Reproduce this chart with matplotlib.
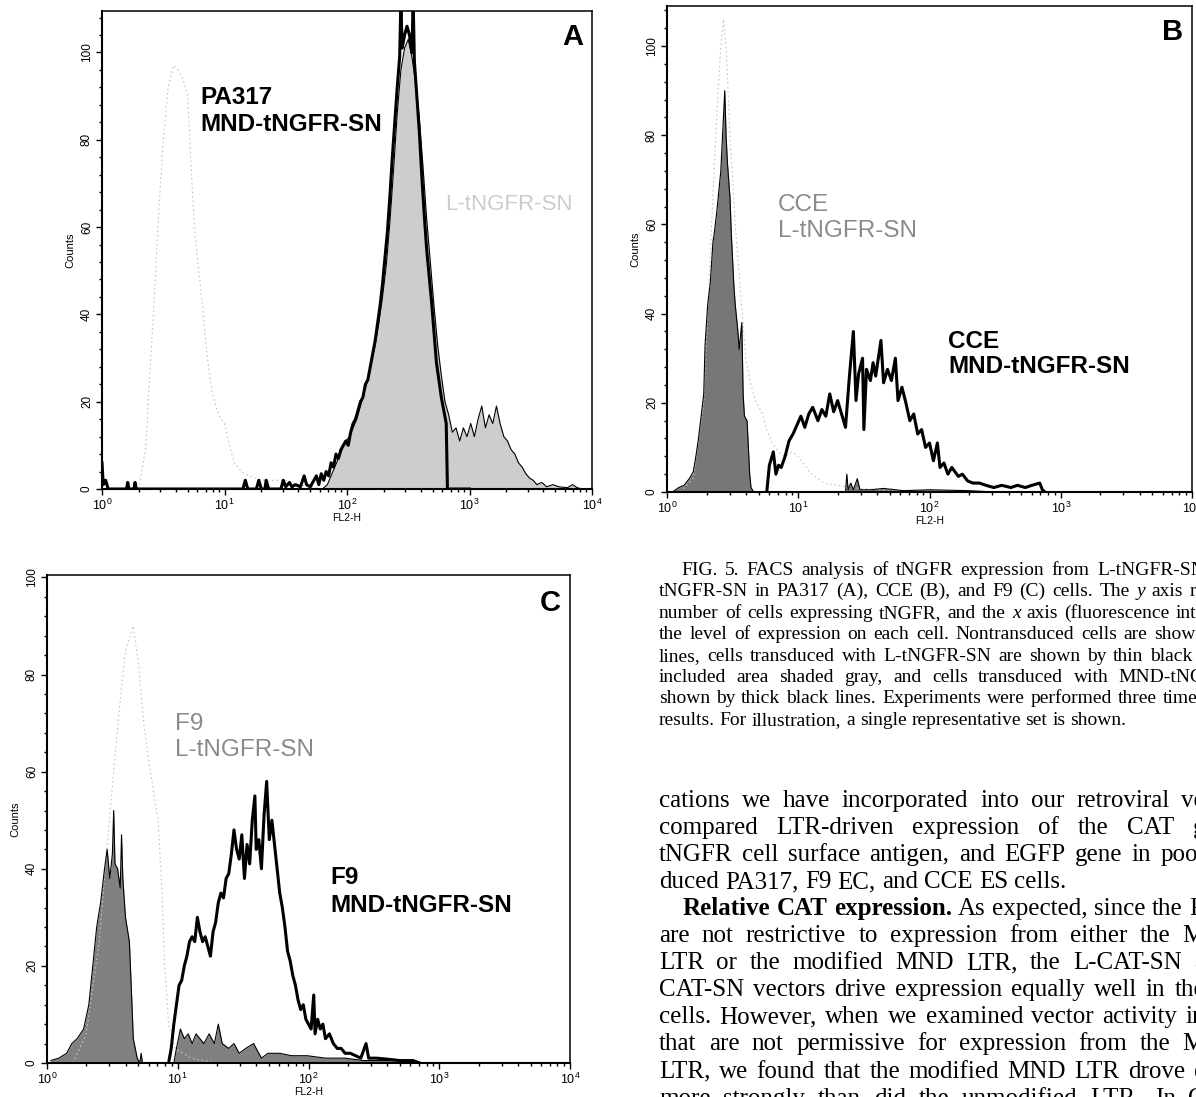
import numpy as np
import matplotlib
matplotlib.use('Agg')
import matplotlib.pyplot as plt
from matplotlib.ticker import MultipleLocator, LogLocator, NullFormatter

# ---- data: (log10 FL2-H, counts) ----
a_mnd = [(0.00, 6), (0.01, 1), (0.03, 2), (0.05, 0), (0.20, 0), (0.21, 1.5), (0.22, 0),
         (0.26, 0), (0.27, 1.5), (0.28, 0), (1.15, 0), (1.17, 2), (1.19, 0), (1.26, 0),
         (1.28, 2), (1.30, 0), (1.33, 0), (1.34, 2), (1.36, 0), (1.46, 0), (1.48, 2),
         (1.50, 0.5), (1.53, 1.5), (1.55, 0.5), (1.58, 1), (1.62, 0.5), (1.65, 3), (1.67, 1),
         (1.70, 0.5), (1.73, 2), (1.75, 3), (1.77, 1), (1.79, 3.5), (1.81, 2), (1.83, 4),
         (1.85, 3), (1.87, 6), (1.89, 5), (1.91, 8), (1.93, 7), (1.95, 9), (1.97, 10),
         (1.99, 11), (2.01, 10), (2.03, 13), (2.05, 15), (2.07, 16), (2.09, 18), (2.11, 20),
         (2.13, 21), (2.15, 24), (2.17, 25), (2.19, 28), (2.21, 31), (2.23, 34), (2.25, 38),
         (2.27, 42), (2.29, 47), (2.31, 53), (2.33, 59), (2.35, 67), (2.37, 76), (2.39, 84),
         (2.41, 92), (2.43, 99), (2.44, 112), (2.45, 101), (2.47, 104), (2.49, 106),
         (2.51, 104), (2.53, 100), (2.54, 112), (2.55, 98), (2.57, 90), (2.59, 82), (2.61, 72),
         (2.63, 63), (2.65, 55), (2.67, 49), (2.69, 43), (2.71, 36), (2.73, 29), (2.75, 25),
         (2.77, 21), (2.79, 18), (2.81, 15), (2.82, 0), (3.00, 0)]

a_ltr = [(1.80, 0), (1.84, 1), (1.87, 3), (1.90, 5), (1.93, 7), (1.96, 9), (1.99, 11),
         (2.02, 12), (2.05, 14), (2.08, 16), (2.11, 19), (2.14, 22), (2.17, 25), (2.20, 29),
         (2.23, 33), (2.26, 38), (2.29, 44), (2.32, 51), (2.35, 61), (2.38, 73), (2.41, 86),
         (2.44, 96), (2.47, 101), (2.50, 103), (2.53, 99), (2.56, 93), (2.59, 85), (2.62, 74),
         (2.65, 62), (2.68, 52), (2.71, 42), (2.74, 33), (2.77, 26), (2.80, 20), (2.83, 17),
         (2.86, 13), (2.89, 14), (2.92, 11), (2.95, 14), (2.98, 12), (3.01, 15), (3.04, 12),
         (3.07, 16), (3.10, 19), (3.13, 14), (3.16, 17), (3.19, 15), (3.22, 19), (3.25, 15),
         (3.28, 12), (3.31, 11), (3.34, 9), (3.37, 8), (3.40, 6), (3.43, 5), (3.46, 3.5),
         (3.49, 2.5), (3.52, 2), (3.55, 1), (3.59, 1.5), (3.63, 0.5), (3.68, 1), (3.73, 0.5),
         (3.80, 0.3), (3.84, 1), (3.88, 0.3), (3.92, 0)]

a_non = [(0.30, 0), (0.36, 10), (0.38, 22), (0.42, 40), (0.46, 62), (0.50, 80), (0.54, 92),
         (0.58, 97), (0.62, 96), (0.66, 94), (0.70, 90), (0.73, 72), (0.76, 58), (0.79, 50),
         (0.82, 42), (0.86, 30), (0.90, 22), (0.95, 17), (1.00, 15), (1.04, 10), (1.08, 6),
         (1.14, 4), (1.20, 3), (1.30, 2), (1.50, 2), (1.60, 1), (1.80, 0)]

b_mnd = [(0.76, 0), (0.78, 6), (0.81, 9), (0.83, 4), (0.85, 6), (0.87, 5.5), (0.90, 8),
         (0.93, 11.5), (0.96, 13), (0.99, 15), (1.02, 17), (1.05, 14.5), (1.08, 17.5),
         (1.11, 19), (1.15, 16), (1.18, 18.5), (1.21, 17), (1.24, 22), (1.27, 18), (1.30, 20.5),
         (1.33, 17.5), (1.36, 14.5), (1.39, 26), (1.42, 36), (1.44, 20.5), (1.46, 26.5),
         (1.49, 30), (1.50, 14), (1.52, 27.5), (1.55, 25), (1.57, 29), (1.59, 26), (1.63, 34),
         (1.65, 24.5), (1.68, 27.5), (1.71, 25), (1.74, 30), (1.76, 20.5), (1.79, 23.5),
         (1.82, 20), (1.85, 16), (1.88, 17.5), (1.91, 13), (1.94, 14), (1.97, 10), (2.00, 11),
         (2.03, 7), (2.06, 11), (2.08, 5.5), (2.11, 6.5), (2.14, 4), (2.17, 5.5), (2.22, 3.5),
         (2.25, 4), (2.29, 2.5), (2.33, 2), (2.38, 2), (2.43, 1.5), (2.49, 1), (2.55, 1.5),
         (2.62, 1), (2.67, 1.5), (2.73, 1), (2.78, 1.5), (2.84, 2), (2.86, 0.5), (2.88, 0)]

b_ltr = [(0.04, 0), (0.09, 1), (0.13, 1.5), (0.17, 3), (0.20, 4.5), (0.22, 8), (0.24, 12),
         (0.26, 17), (0.28, 22), (0.29, 33), (0.31, 42), (0.33, 47), (0.35, 56), (0.36, 58),
         (0.38, 63), (0.39, 66), (0.41, 72), (0.42, 78), (0.43, 84), (0.44, 90), (0.45, 80),
         (0.46, 74), (0.48, 66), (0.49, 58), (0.50, 52), (0.51, 46), (0.52, 42), (0.54, 36),
         (0.55, 32), (0.57, 38), (0.58, 22), (0.59, 17), (0.61, 16), (0.62, 10), (0.63, 4),
         (0.64, 1), (0.66, 0), (1.36, 0), (1.37, 4), (1.38, 0.5), (1.40, 2), (1.42, 0.5),
         (1.45, 3), (1.47, 0.5), (1.55, 0.5), (1.65, 0.8), (1.80, 0.3), (2.00, 0.5),
         (2.30, 0.3), (2.50, 0)]

b_non = [(0.10, 0), (0.20, 3), (0.28, 20), (0.34, 60), (0.38, 85), (0.41, 100), (0.43, 106),
         (0.45, 100), (0.48, 80), (0.52, 60), (0.56, 45), (0.60, 30), (0.64, 24), (0.68, 20),
         (0.72, 18), (0.76, 14), (0.80, 11), (0.85, 9), (0.90, 8), (0.95, 9), (1.00, 8),
         (1.05, 6), (1.10, 4), (1.20, 2), (1.40, 1), (1.60, 0.5), (2.00, 0)]

c_mnd = [(0.93, 0), (0.95, 3), (0.97, 8), (0.99, 12), (1.01, 16), (1.03, 17), (1.05, 20),
         (1.07, 22), (1.09, 25), (1.11, 26), (1.13, 25), (1.15, 30), (1.17, 27), (1.19, 25),
         (1.21, 26), (1.23, 24), (1.25, 22), (1.27, 27), (1.29, 29), (1.31, 33), (1.33, 35),
         (1.35, 34), (1.37, 38), (1.39, 39), (1.41, 43), (1.43, 48), (1.45, 44), (1.47, 42),
         (1.49, 47), (1.51, 38), (1.53, 45), (1.55, 41), (1.57, 50), (1.59, 55), (1.60, 44),
         (1.62, 46), (1.64, 40), (1.66, 51), (1.68, 58), (1.70, 46), (1.72, 50), (1.74, 45),
         (1.76, 40), (1.78, 35), (1.80, 32), (1.82, 28), (1.84, 23), (1.86, 21), (1.88, 18),
         (1.90, 16), (1.92, 13), (1.94, 11), (1.96, 12), (1.98, 9), (2.00, 8), (2.02, 7),
         (2.04, 14), (2.05, 6), (2.07, 9), (2.09, 7), (2.11, 8), (2.13, 5), (2.16, 6),
         (2.19, 4), (2.22, 3), (2.25, 3), (2.28, 2), (2.32, 2), (2.36, 1.5), (2.40, 1),
         (2.44, 4), (2.46, 1), (2.52, 1), (2.60, 0.8), (2.70, 0.5), (2.80, 0.5), (2.85, 0)]

c_ltr = [(0.03, 0.5), (0.09, 1), (0.15, 2), (0.19, 4), (0.23, 5), (0.28, 7), (0.32, 12),
         (0.35, 20), (0.38, 28), (0.41, 33), (0.44, 40), (0.46, 44), (0.48, 38), (0.50, 43),
         (0.51, 52), (0.52, 41), (0.54, 40), (0.56, 36), (0.57, 47), (0.58, 38), (0.60, 30),
         (0.63, 25), (0.65, 12), (0.66, 5), (0.69, 1), (0.71, 0), (0.72, 2), (0.73, 0),
         (0.97, 0), (0.99, 3), (1.02, 7), (1.05, 5), (1.08, 6), (1.11, 4), (1.14, 6),
         (1.17, 5), (1.20, 4), (1.24, 6), (1.28, 4), (1.31, 8), (1.34, 4), (1.39, 3),
         (1.43, 4), (1.47, 2), (1.52, 3), (1.58, 4), (1.64, 1), (1.69, 2), (1.78, 2),
         (1.87, 1.5), (1.99, 1.5), (2.13, 1), (2.28, 1), (2.42, 0.5), (2.57, 0.5),
         (2.72, 0.5), (2.83, 0)]

c_non = [(0.20, 0), (0.30, 6), (0.40, 25), (0.46, 45), (0.51, 60), (0.55, 72), (0.60, 85),
         (0.66, 90), (0.70, 82), (0.74, 70), (0.78, 62), (0.82, 55), (0.85, 50), (0.88, 35),
         (0.90, 20), (0.93, 8), (0.98, 3), (1.10, 1), (1.30, 0)]

# ---- caption and body text lines (cut at the page edge as in the scan) ----
caption_lines = [
    "FIG. 5. FACS analysis of tNGFR expression from L-tNGFR-SN",
    "tNGFR-SN in PA317 (A), CCE (B), and F9 (C) cells. The *y axis re",
    "number of cells expressing tNGFR, and the *x axis (fluorescence inte",
    "the level of expression on each cell. Nontransduced cells are shown",
    "lines, cells transduced with L-tNGFR-SN are shown by thin black l",
    "included area shaded gray, and cells transduced with MND-tNG",
    "shown by thick black lines. Experiments were performed three times",
    "results. For illustration, a single representative set is shown.",
]
caption_just = [True, True, True, True, True, True, True, False]

body_lines = [
    "cations we have incorporated into our retroviral ve",
    "compared LTR-driven expression of the CAT g",
    "tNGFR cell surface antigen, and EGFP gene in pool",
    "duced PA317, F9 EC, and CCE ES cells.",
    "#Relative #CAT #expression. As expected, since the PA",
    "are not restrictive to expression from either the M",
    "LTR or the modified MND LTR, the L-CAT-SN a",
    "CAT-SN vectors drive expression equally well in the",
    "cells. However, when we examined vector activity in",
    "that are not permissive for expression from the M",
    "LTR, we found that the modified MND LTR drove e",
    "more strongly than did the unmodified LTR. In C",
]
body_just = [True, True, True, False, True, True, True, True, True, True, True, True]

W, H = 1196, 1097
fig = plt.figure(figsize=(W / 100, H / 100), dpi=100)
plt.rcParams['font.family'] = ['Liberation Sans', 'DejaVu Sans']


def box(l, t, r, b):
    return [l / W, 1 - b / H, (r - l) / W, (b - t) / H]


def setup(ax, ymax):
    ax.set_xscale('log')
    ax.set_xlim(1, 1e4)
    ax.set_ylim(0, ymax)
    ax.yaxis.set_major_locator(MultipleLocator(20))
    ax.yaxis.set_minor_locator(MultipleLocator(4))
    ax.xaxis.set_major_locator(LogLocator(base=10, numticks=10))
    ax.xaxis.set_minor_locator(LogLocator(base=10, subs=np.arange(2, 10), numticks=10))
    ax.xaxis.set_minor_formatter(NullFormatter())
    ax.tick_params(which='both', direction='out', width=1.0, pad=2)
    ax.tick_params(axis='x', labelsize=9)
    ax.tick_params(axis='y', labelsize=8.5)
    ax.tick_params(which='major', length=4.5)
    ax.tick_params(which='minor', length=2.5)
    for lab in ax.get_yticklabels():
        lab.set_rotation(90)
        lab.set_va('center')
    ax.set_ylabel('Counts', fontsize=8, labelpad=4)
    ax.set_xlabel('FL2-H', fontsize=7.5, labelpad=0)
    for side in ('left', 'bottom'):
        ax.spines[side].set_linewidth(1.5)
    for side in ('top', 'right'):
        ax.spines[side].set_linewidth(1.1)


def draw(ax, data, **kw):
    d = np.array(data, dtype=float)
    ax.plot(10 ** d[:, 0], d[:, 1], **kw)


def shade(ax, data, color):
    d = np.array(data, dtype=float)
    ax.fill_between(10 ** d[:, 0], d[:, 1], 0, color=color, lw=0)


gray_kw = dict(color='#c4c4c4', lw=0.8, ls=(0, (1.5, 2.5)))
thin_kw = dict(color='black', lw=0.8)
thick_kw = dict(color='black', lw=2.2)
lab_kw = dict(fontsize=17.5, fontweight='bold', va='baseline', ha='left')
glab_kw = dict(fontsize=17.5, color='#8a8a8a', va='baseline', ha='left')
letter_kw = dict(fontsize=21, fontweight='bold', ha='right', va='top')

# panel A
axA = fig.add_axes(box(102, 11, 592, 489))
setup(axA, 109.5)
shade(axA, a_ltr, '#cdcdcd')
draw(axA, a_non, **gray_kw)
draw(axA, a_ltr, **thin_kw)
draw(axA, a_mnd, **thick_kw)
axA.text(10 ** 0.80, 88.2, 'PA317', **lab_kw)
axA.text(10 ** 0.80, 82.0, 'MND-tNGFR-SN', **lab_kw)
axA.text(10 ** 2.80, 64, 'L-tNGFR-SN', fontsize=16, color='#cccccc', va='baseline', ha='left')
axA.text(0.983, 0.975, 'A', transform=axA.transAxes, **letter_kw)

# panel B
axB = fig.add_axes(box(667, 6, 1192, 492))
setup(axB, 109)
shade(axB, b_ltr, '#777777')
draw(axB, b_non, **gray_kw)
draw(axB, b_ltr, **thin_kw)
draw(axB, b_mnd, **thick_kw)
axB.text(10 ** 0.845, 63.0, 'CCE', **glab_kw)
axB.text(10 ** 0.845, 57.3, 'L-tNGFR-SN', **glab_kw)
axB.text(10 ** 2.14, 32.2, 'CCE', **lab_kw)
axB.text(10 ** 2.14, 26.8, 'MND-tNGFR-SN', **lab_kw)
axB.text(0.983, 0.975, 'B', transform=axB.transAxes, **letter_kw)

# panel C
axC = fig.add_axes(box(47, 575, 570, 1063))
setup(axC, 100.5)
shade(axC, c_ltr, '#808080')
draw(axC, c_non, **gray_kw)
draw(axC, c_ltr, **thin_kw)
draw(axC, c_mnd, **thick_kw)
axC.text(10 ** 0.98, 68.6, 'F9', **glab_kw)
axC.text(10 ** 0.98, 63.2, 'L-tNGFR-SN', **glab_kw)
axC.text(10 ** 2.17, 36.8, 'F9', **lab_kw)
axC.text(10 ** 2.17, 31.0, 'MND-tNGFR-SN', **lab_kw)
axC.text(0.983, 0.972, 'C', transform=axC.transAxes, **letter_kw)

# ---- justified text column on the right, running off the page edge ----
renderer = fig.canvas.get_renderer()


def put_line(line, x0, x1, y, size, justify):
    texts = []
    for w in line.split(' '):
        weight, style = 'normal', 'normal'
        if w.startswith('#'):
            weight, w = 'bold', w[1:]
        if w.startswith('*'):
            style, w = 'italic', w[1:]
        t = fig.text(0, 0, w, fontsize=size, family='Liberation Serif',
                     fontweight=weight, fontstyle=style, va='baseline', ha='left')
        texts.append(t)
    widths = [t.get_window_extent(renderer).width for t in texts]
    gap = 0.25 * size * 100 / 72
    if justify and len(texts) > 1:
        gap = max((x1 - x0 - sum(widths)) / (len(texts) - 1), gap)
    x = x0
    for t, wd in zip(texts, widths):
        t.set_position((x / W, 1 - y / H))
        x += wd + gap


for i, (line, j) in enumerate(zip(caption_lines, caption_just)):
    x0 = 681 if i == 0 else 659
    put_line(line, x0, 1205, 575 + 21.4 * i, 14, j)

for i, (line, j) in enumerate(zip(body_lines, body_just)):
    x0 = 683 if i == 4 else 659
    put_line(line, x0, 1205, 807 + 27.05 * i, 18, j)

fig.savefig('out.png', dpi=100)
